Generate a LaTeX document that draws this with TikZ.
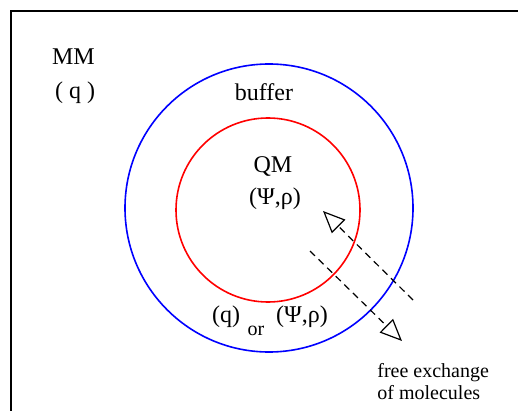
\documentclass[tikz,border=0pt]{standalone}
\usepackage{fontspec}
\setmainfont{Liberation Serif}
\usetikzlibrary{arrows.meta}
\tikzset{
    zone/.style={line width=0.8pt},
    exch/.style={line width=0.6pt, dash pattern=on 3.5pt off 2.5pt,
        -{Triangle[open, length=11pt, width=9.5pt, line width=0.6pt]}},
    lbl/.style={inner sep=0pt, font=\fontsize{12}{14}\selectfont},
    small/.style={inner sep=0pt, font=\fontsize{10}{12}\selectfont}
}
\begin{document}
\begin{tikzpicture}[x=0.5pt,y=-0.5pt]
        \useasboundingbox (0,0) rectangle (518,411);
        % frame
            \draw[line width=0.8pt] (11,411) -- (11,11) -- (518,11);
        % regions
            \draw[zone, blue] (269,208) circle (72pt);
            \draw[zone, red] (268,210) circle (46pt);
        % labels
            \node[lbl] (mm) at (73.5,57) {MM};
            \node[lbl] (mmq) at (75,93) {( q )};
            \node[lbl] (buf) at (264,92) {buffer};
            \node[lbl] (qm) at (273,166) {QM};
            \node[lbl] (qmpsi) at (275,199) {(Ψ,ρ)};
            \node[lbl] (bufq) at (226,317) {(q)};
            \node[small] (bufor) at (256,331) {or};
            \node[lbl] (bufpsi) at (302,317) {(Ψ,ρ)};
            \node[small, anchor=base west] (free) at (377,377) {free exchange};
            \node[small, anchor=base west] (mol) at (377,399) {of molecules};
        % exchange
            \coordinate (out1) at (413,300);
            \coordinate (in1) at (323,211);
            \coordinate (out2) at (310,251);
            \coordinate (in2) at (402,341);
            \draw[exch] (out1) -- (in1);
            \draw[exch] (out2) -- (in2);
        \end{tikzpicture}
\end{document}
